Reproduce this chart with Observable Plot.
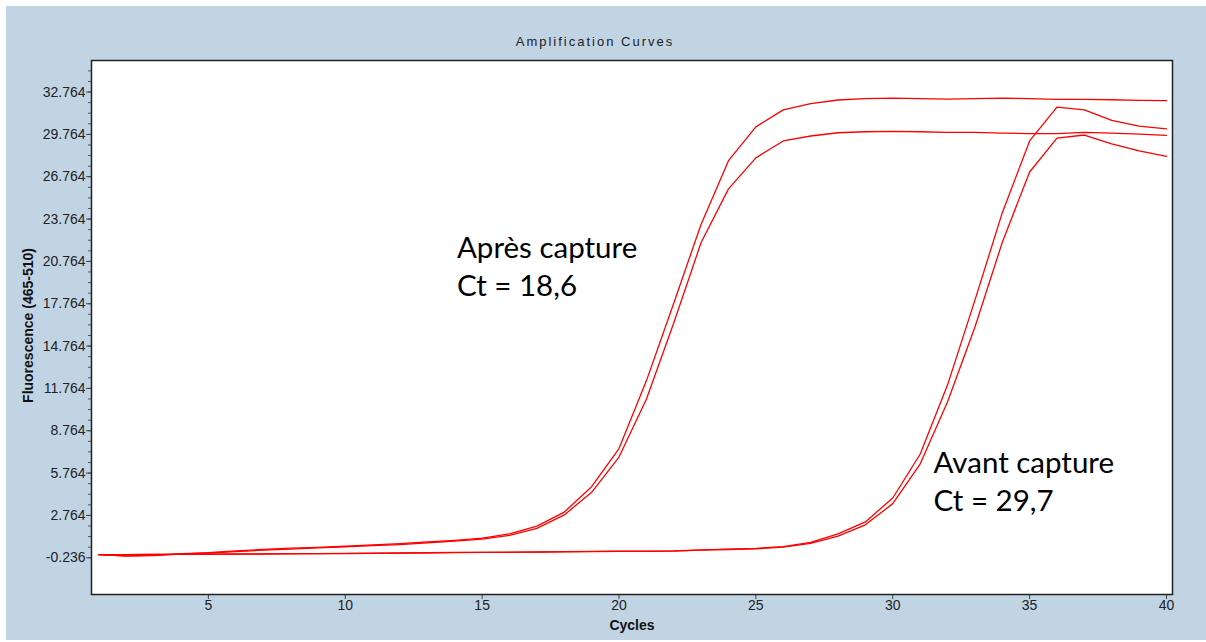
<!DOCTYPE html>
<html><head><meta charset="utf-8">
<script src="https://cdn.jsdelivr.net/npm/d3@7"></script>
<script src="https://cdn.jsdelivr.net/npm/@observablehq/plot@0.6"></script>
<style>
html,body{margin:0;padding:0;background:#fff;}
#wrap{position:absolute;left:6px;top:6px;width:1200px;height:634px;background:#c1d4e4;}
#title{position:absolute;left:0;width:1178px;top:28px;text-align:center;font:13px "Liberation Sans",Arial,sans-serif;letter-spacing:2px;color:#222;}
#chart{position:absolute;left:0;top:48px;}
</style></head><body>
<div id="wrap"><div id="title">Amplification Curves</div><div id="chart"></div></div>
<script>
const cycles = d3.range(1, 41);
const apres1 = [-0.02,-0.12,-0.08,0.02,0.12,0.25,0.35,0.44,0.50,0.58,0.68,0.76,0.88,1.00,1.15,1.45,2.0,3.0,4.8,7.5,12.3,17.8,23.4,27.9,30.3,31.5,31.95,32.2,32.3,32.34,32.3,32.27,32.3,32.34,32.3,32.25,32.25,32.22,32.18,32.15];
const apres2 = [-0.02,-0.1,-0.05,0.05,0.1,0.2,0.3,0.38,0.46,0.54,0.62,0.7,0.82,0.94,1.08,1.35,1.85,2.8,4.4,6.9,11.0,16.4,22.1,25.9,28.1,29.3,29.65,29.88,29.95,29.98,29.95,29.9,29.9,29.85,29.82,29.82,29.9,29.85,29.78,29.7];
const avant1 = [-0.02,-0.02,0.0,0.0,0.02,0.03,0.04,0.05,0.06,0.07,0.09,0.1,0.12,0.14,0.15,0.16,0.17,0.2,0.22,0.23,0.24,0.25,0.32,0.38,0.43,0.55,0.85,1.45,2.3,4.0,7.1,12.0,18.0,24.2,29.3,31.7,31.5,30.75,30.35,30.15];
const avant2 = [-0.02,-0.02,0.0,0.0,0.01,0.02,0.03,0.04,0.05,0.06,0.08,0.09,0.11,0.13,0.14,0.15,0.16,0.18,0.2,0.21,0.22,0.24,0.3,0.35,0.4,0.52,0.78,1.3,2.1,3.6,6.4,10.8,16.1,22.1,27.1,29.5,29.72,29.1,28.6,28.2];
const seriesNames = ["apres1","apres2","avant1","avant2"];
const seriesValues = [apres1, apres2, avant1, avant2];
const xTicks = [5,10,15,20,25,30,35,40];
const yTicks = d3.range(0, 12).map(k => -0.236 + 3 * k);
const yMinor = d3.range(0, 48).map(k => -0.236 + 0.75 * k).filter(v => v < 35.0);
const annotations = [
  {x: 14.08, y: 21.68, text: "Après capture"},
  {x: 14.08, y: 19.0, text: "Ct = 18,6"},
  {x: 31.49, y: 6.47, text: "Avant capture"},
  {x: 31.49, y: 3.75, text: "Ct = 29,7"}
];

const data = [];
seriesNames.forEach((s, j) => cycles.forEach((c, i) => data.push({series: s, cycle: c, value: seriesValues[j][i]})));

const chart = Plot.plot({
  width: 1200, height: 586,
  marginLeft: 85, marginRight: 34, marginTop: 6, marginBottom: 46,
  style: {background: "transparent", fontFamily: "'Liberation Sans', Arial, sans-serif", fontSize: "14px", color: "#222"},
  x: {domain: [0.73, 40.22], label: null},
  y: {domain: [-2.84, 35.0], label: null},
  marks: [
    Plot.frame({fill: "white", stroke: null}),
    Plot.axisY(yMinor, {tickSize: 3, tickFormat: () => "", stroke: "#555", label: null}),
    Plot.axisY(yTicks, {tickSize: 5, tickPadding: 1, tickFormat: d => d.toFixed(3), stroke: "#444", fill: "#222", fontSize: 14, label: null}),
    Plot.axisX(xTicks, {tickSize: 5, tickPadding: 1, stroke: "#444", fill: "#222", fontSize: 14, label: null}),
    Plot.line(data, {x: "cycle", y: "value", z: "series", stroke: "#ff0000", strokeWidth: 1.3}),
    Plot.frame({stroke: "#222", strokeWidth: 1.5}),
    Plot.text(annotations, {x: "x", y: "y", text: "text", textAnchor: "start", fontSize: 29.5, fontFamily: "Lato", fill: "#000"}),
    Plot.text(["Cycles"], {text: d => d, frameAnchor: "bottom", lineAnchor: "middle", textAnchor: "middle", dy: 31, fontWeight: "bold", fontSize: 14, fill: "#111", letterSpacing: "0.6px"}),
    Plot.text(["Fluorescence (465-510)"], {text: d => d, frameAnchor: "left", lineAnchor: "middle", textAnchor: "middle", rotate: -90, dx: -63, dy: -2, fontWeight: "bold", fontSize: 14, fill: "#111"})
  ]
});
document.getElementById("chart").appendChild(chart);
</script>
</body></html>
